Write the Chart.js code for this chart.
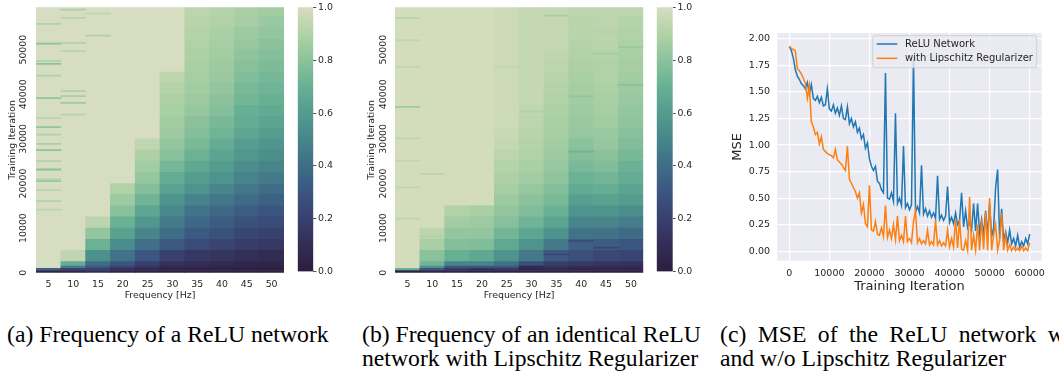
<!DOCTYPE html>
<html>
<head>
<meta charset="utf-8">
<script src="https://cdn.jsdelivr.net/npm/chart.js@4.4.1/dist/chart.umd.min.js"></script>
<style>
  html, body { margin: 0; padding: 0; background: #fff; width: 1059px; height: 373px; overflow: hidden; position: relative; }
  canvas { position: absolute; }
  .cap { position: absolute; font-family: "Liberation Serif", "Times New Roman", serif; font-size: 23.7px; line-height: 1; color: #000; white-space: nowrap; }
</style>
</head>
<body>
<canvas id="heatA" width="290" height="305" style="left:0px;top:0px"></canvas>
<canvas id="barA" width="60" height="305" style="left:290px;top:0px"></canvas>
<canvas id="heatB" width="300" height="305" style="left:350px;top:0px"></canvas>
<canvas id="barB" width="60" height="305" style="left:650px;top:0px"></canvas>
<canvas id="mse" width="339" height="280" style="left:720px;top:20px"></canvas>

<div class="cap" style="left:7px;top:323px">(a) Frequency of a ReLU network</div>
<div class="cap" style="left:362px;top:323px">(b) Frequency of an identical ReLU</div>
<div class="cap" style="left:362px;top:347px">network with Lipschitz Regularizer</div>
<div class="cap" style="left:720px;top:323px;word-spacing:5.5px">(c) MSE of the ReLU network with</div>
<div class="cap" style="left:720px;top:347px">and w/o Lipschitz Regularizer</div>

<script>
// ---- data ----
var freqLabels = ['5', '10', '15', '20', '25', '30', '35', '40', '45', '50'];
// heatmap row edges (training iterations)
var rowEdges = [0, 500, 1000, 1500, 2500, 5000, 7500, 10000, 12500, 15000, 17500, 20000, 22500, 25000,
  27500, 30000, 32500, 35000, 37500, 40000, 42500, 45000, 47500, 50000, 52500, 55000, 57500, 59500];
var iterTicks = [0, 10000, 20000, 30000, 40000, 50000];
var cbarTicks = [0, 0.2, 0.4, 0.6, 0.8, 1.0];

// (a) plain ReLU network, one list per frequency column, one value per row
var heatA = [
  [0.06, 0.35, 1, 1, 1, 1, 1, 1, 1, 1, 1, 1, 1, 1, 1, 1, 1, 1, 1, 1, 1, 1, 1, 1, 1, 1, 1],
  [0.05, 0.2, 0.45, 0.68, 0.94, 1, 1, 1, 1, 1, 1, 1, 1, 1, 1, 1, 1, 1, 1, 1, 1, 1, 1, 1, 1, 1, 1],
  [0.1, 0.2, 0.3, 0.4, 0.55, 0.71, 0.82, 0.93, 1, 1, 1, 1, 1, 1, 1, 1, 1, 1, 1, 1, 1, 1, 1, 1, 1, 1, 1],
  [0.04, 0.12, 0.2, 0.3, 0.42, 0.53, 0.63, 0.71, 0.79, 0.85, 0.9, 1, 1, 1, 1, 1, 1, 1, 1, 1, 1, 1, 1, 1, 1, 1, 1],
  [0.03, 0.08, 0.13, 0.2, 0.31, 0.41, 0.5, 0.58, 0.65, 0.72, 0.78, 0.83, 0.86, 0.89, 0.94, 1, 1, 1, 1, 1, 1, 1, 1, 1, 1, 1, 1],
  [0.02, 0.04, 0.07, 0.12, 0.2, 0.32, 0.4, 0.46, 0.51, 0.57, 0.63, 0.68, 0.74, 0.79, 0.82, 0.85, 0.86, 0.88, 0.89, 0.91, 0.93, 1, 1, 1, 1, 1, 1],
  [0.02, 0.04, 0.07, 0.1, 0.16, 0.25, 0.32, 0.38, 0.43, 0.49, 0.56, 0.61, 0.66, 0.71, 0.75, 0.78, 0.8, 0.83, 0.85, 0.86, 0.87, 0.88, 0.89, 0.9, 0.91, 0.92, 0.93],
  [0.01, 0.03, 0.05, 0.08, 0.14, 0.22, 0.28, 0.33, 0.38, 0.44, 0.5, 0.56, 0.6, 0.64, 0.68, 0.72, 0.75, 0.78, 0.8, 0.82, 0.84, 0.85, 0.86, 0.87, 0.88, 0.9, 0.91],
  [0.01, 0.02, 0.04, 0.06, 0.11, 0.18, 0.23, 0.28, 0.33, 0.39, 0.44, 0.49, 0.54, 0.58, 0.61, 0.65, 0.68, 0.7, 0.73, 0.75, 0.77, 0.79, 0.81, 0.83, 0.85, 0.87, 0.88],
  [0.01, 0.02, 0.03, 0.05, 0.09, 0.16, 0.2, 0.25, 0.3, 0.35, 0.4, 0.45, 0.5, 0.54, 0.57, 0.61, 0.64, 0.67, 0.7, 0.72, 0.74, 0.76, 0.78, 0.8, 0.82, 0.84, 0.86]
];
// thin noisy lines: [column, iteration, value]
var stripesA = [
  [0, 55650, 0.9], [0, 51240, 0.8], [0, 47290, 0.9], [0, 46690, 0.8], [0, 44070, 0.9], [0, 39000, 0.82],
  [0, 34590, 0.92], [0, 32490, 0.82], [0, 30850, 0.9], [0, 28760, 0.88], [0, 27340, 0.8], [0, 24880, 0.9],
  [0, 23010, 0.8], [0, 20770, 0.9], [0, 20390, 0.82], [0, 18380, 0.92], [0, 15910, 0.9], [0, 14040, 0.93],
  [1, 58860, 0.88], [1, 57000, 0.92], [1, 51400, 0.9], [1, 49530, 0.92], [1, 40560, 0.9], [1, 39440, 0.88],
  [1, 37950, 0.85], [1, 35330, 0.92], [2, 53040, 0.9], [2, 58000, 0.94]
];

// (b) ReLU network with Lipschitz regularizer
var heatB = [
  [0.03, 0.7, 0.99, 0.99, 0.99, 0.99, 0.99, 0.99, 0.99, 0.99, 0.99, 0.99, 0.99, 0.99, 0.99, 0.99, 0.99, 0.99, 0.99, 0.99, 0.99, 0.99, 0.99, 0.99, 0.99, 0.99, 0.99],
  [0.05, 0.3, 0.55, 0.72, 0.8, 0.88, 0.93, 0.99, 0.99, 0.99, 0.99, 0.99, 0.99, 0.99, 0.99, 0.99, 0.99, 0.99, 0.99, 0.99, 0.99, 0.99, 0.99, 0.99, 0.99, 0.99, 0.99],
  [0.05, 0.15, 0.3, 0.5, 0.7, 0.78, 0.82, 0.86, 0.9, 0.99, 0.99, 0.99, 0.99, 0.99, 0.99, 0.99, 0.99, 0.99, 0.99, 0.99, 0.99, 0.99, 0.99, 0.99, 0.99, 0.99, 0.99],
  [0.04, 0.12, 0.3, 0.5, 0.66, 0.77, 0.82, 0.85, 0.88, 0.99, 0.99, 0.99, 0.99, 0.99, 0.99, 0.99, 0.99, 0.99, 0.99, 0.99, 0.99, 0.99, 0.99, 0.99, 0.99, 0.99, 0.99],
  [0.04, 0.15, 0.3, 0.42, 0.56, 0.66, 0.73, 0.79, 0.82, 0.85, 0.87, 0.89, 0.91, 0.93, 0.95, 0.96, 0.97, 0.97, 0.97, 0.97, 0.97, 0.97, 0.97, 0.97, 0.97, 0.97, 0.97],
  [0.04, 0.06, 0.08, 0.27, 0.45, 0.56, 0.65, 0.72, 0.77, 0.8, 0.83, 0.86, 0.88, 0.9, 0.91, 0.92, 0.93, 0.94, 0.95, 0.95, 0.95, 0.95, 0.95, 0.95, 0.95, 0.95, 0.95],
  [0.04, 0.07, 0.12, 0.18, 0.32, 0.45, 0.56, 0.64, 0.71, 0.75, 0.78, 0.81, 0.83, 0.85, 0.86, 0.87, 0.88, 0.89, 0.9, 0.91, 0.92, 0.93, 0.94, 0.95, 0.95, 0.95, 0.95],
  [0.03, 0.06, 0.1, 0.17, 0.27, 0.34, 0.42, 0.5, 0.56, 0.62, 0.67, 0.71, 0.75, 0.78, 0.8, 0.83, 0.84, 0.85, 0.86, 0.87, 0.88, 0.89, 0.9, 0.91, 0.92, 0.92, 0.93],
  [0.02, 0.05, 0.08, 0.14, 0.24, 0.33, 0.42, 0.5, 0.57, 0.63, 0.69, 0.73, 0.77, 0.8, 0.83, 0.84, 0.86, 0.87, 0.88, 0.89, 0.9, 0.9, 0.91, 0.92, 0.92, 0.93, 0.93],
  [0.02, 0.05, 0.08, 0.13, 0.22, 0.31, 0.39, 0.47, 0.54, 0.6, 0.64, 0.68, 0.71, 0.75, 0.77, 0.79, 0.81, 0.82, 0.84, 0.85, 0.86, 0.87, 0.88, 0.89, 0.9, 0.91, 0.93]
];
var stripesB = [
  [0, 37050, 0.85], [0, 57000, 0.93], [0, 52000, 0.94], [0, 46000, 0.94], [0, 30000, 0.94], [0, 25000, 0.94],
  [0, 19000, 0.94], [0, 12000, 0.94], [1, 22000, 0.94], [1, 8000, 0.9], [1, 5300, 0.88], [6, 13900, 0.7],
  [7, 39400, 0.82], [9, 26000, 0.74], [9, 50500, 0.84], [6, 57500, 0.88], [8, 49000, 0.86], [5, 36000, 0.9],
  [4, 46000, 0.94], [7, 7000, 0.25], [8, 5500, 0.22], [6, 4000, 0.22], [9, 42000, 0.8], [7, 27000, 0.72]
];

// (c) MSE, sampled every 500 iterations from 0 to 60000
var mseStep = 500;
var reluMSE = [
  1.93, 1.89, 1.82, 1.71, 1.65, 1.62, 1.58, 1.56, 1.53, 1.59,
  1.48, 1.57, 1.44, 1.42, 1.46, 1.40, 1.45, 1.37, 1.38, 1.53,
  1.34, 1.32, 1.38, 1.30, 1.35, 1.28, 1.37, 1.25, 1.24, 1.36,
  1.20, 1.25, 1.17, 1.22, 1.12, 1.16, 1.06, 1.10, 0.97, 1.02,
  0.87, 0.80, 0.76, 0.80, 0.66, 0.64, 0.58, 0.55, 1.68, 0.50,
  0.49, 0.55, 0.47, 1.30, 0.45, 0.50, 0.43, 0.99, 0.41, 0.45,
  0.39, 0.44, 1.83, 0.37, 0.42, 0.36, 0.81, 0.35, 0.40, 0.33,
  0.38, 0.32, 0.36, 0.31, 0.71, 0.30, 0.34, 0.29, 0.33, 0.61,
  0.27, 0.32, 0.26, 0.36, 0.25, 0.29, 0.55, 0.23, 0.38, 0.22,
  0.27, 0.20, 0.45, 0.19, 0.45, 0.17, 0.30, 0.16, 0.38, 0.15,
  0.45, 0.14, 0.22, 0.60, 0.77, 0.12, 0.40, 0.10, 0.18, 0.08,
  0.20, 0.07, 0.12, 0.05, 0.15, 0.04, 0.09, 0.05, 0.12, 0.07, 0.16
];
var lipMSE = [
  1.93, 1.91, 1.90, 1.89, 1.72, 1.70, 1.67, 1.63, 1.58, 1.44,
  1.56, 1.22, 1.17, 1.10, 1.12, 1.01, 1.08, 0.96, 0.94, 0.92,
  0.91, 0.90, 0.88, 0.96, 0.86, 0.84, 0.82, 0.79, 0.76, 0.99,
  0.68, 0.64, 0.60, 0.56, 0.50, 0.55, 0.36, 0.44, 0.26, 0.23,
  0.62, 0.20, 0.19, 0.28, 0.16, 0.15, 0.22, 0.14, 0.43, 0.13,
  0.20, 0.12, 0.25, 0.11, 0.33, 0.10, 0.15, 0.09, 0.33, 0.09,
  0.12, 0.08, 0.28, 0.38, 0.08, 0.12, 0.07, 0.10, 0.07, 0.20,
  0.06, 0.09, 0.06, 0.29, 0.06, 0.10, 0.05, 0.08, 0.05, 0.20,
  0.04, 0.12, 0.04, 0.30, 0.03, 0.30, 0.02, 0.01, 0.10, 0.01,
  0.51, 0.01, 0.15, 0.01, 0.25, 0.01, 0.30, 0.02, 0.37, 0.01,
  0.50, 0.01, 0.15, 0.25, 0.01, 0.10, 0.36, 0.01, 0.15, 0.01,
  0.06, 0.005, 0.04, 0.005, 0.03, 0.005, 0.05, 0.005, 0.03, 0.005, 0.08
];
var mseXTicks = [0, 10000, 20000, 30000, 40000, 50000, 60000];
var mseYTicks = [0, 0.25, 0.5, 0.75, 1.0, 1.25, 1.5, 1.75, 2.0];

// ---- style ----
var TXT = '#262626';
var FONT = '"DejaVu Sans", sans-serif';
Chart.defaults.font.family = FONT;
Chart.defaults.color = TXT;

// colour map, dark (0) -> light (1)
var cmapStops = ['#2c1e3e', '#332d55', '#38406e', '#3b5580', '#3f6d87', '#47858b',
  '#539c8e', '#68b094', '#8bc29c', '#b1d2a6', '#d7ddc0'];

function hexRgb(h) {
  return [parseInt(h.substr(1, 2), 16), parseInt(h.substr(3, 2), 16), parseInt(h.substr(5, 2), 16)];
}
function cmap(v) {
  v = Math.max(0, Math.min(1, v));
  var p = v * 10, i = Math.min(9, Math.floor(p)), t = p - i;
  var a = hexRgb(cmapStops[i]), b = hexRgb(cmapStops[i + 1]);
  var c = a.map(function (x, k) { return Math.round(x + (b[k] - x) * t); });
  return 'rgb(' + c.join(',') + ')';
}

// rotated tick labels on the heatmap y axis
function yRotTicks(x) {
  return {
    id: 'yRotTicks',
    afterDraw: function (chart) {
      var ctx = chart.ctx, ys = chart.scales.y;
      ctx.save();
      ctx.font = '9.4px ' + FONT;
      ctx.fillStyle = TXT;
      ctx.textAlign = 'center';
      ctx.textBaseline = 'middle';
      iterTicks.forEach(function (v) {
        ctx.save();
        ctx.translate(x, ys.getPixelForValue(v));
        ctx.rotate(-Math.PI / 2);
        ctx.fillText(String(v), 0, 0);
        ctx.restore();
      });
      ctx.restore();
    }
  };
}

function drawHeatmap(id, values, stripes, yAxisW, padRight, titlePad, tickX) {
  var datasets = [];
  stripes.forEach(function (s) {
    datasets.push({
      data: freqLabels.map(function (f, j) { return j === s[0] ? [s[1], s[1] + 250] : null; }),
      backgroundColor: cmap(s[2]),
      order: 0
    });
  });
  for (var r = 0; r < rowEdges.length - 1; r++) {
    datasets.push({
      data: freqLabels.map(function () { return [rowEdges[r], rowEdges[r + 1]]; }),
      backgroundColor: values.map(function (col) { return cmap(col[r]); }),
      order: 1
    });
  }
  new Chart(document.getElementById(id), {
    type: 'bar',
    data: { labels: freqLabels, datasets: datasets },
    options: {
      responsive: false,
      animation: false,
      layout: { padding: { top: 7.3, right: padRight, left: 0, bottom: 0 } },
      datasets: { bar: { grouped: false, barPercentage: 1, categoryPercentage: 1, borderWidth: 0 } },
      plugins: { legend: { display: false }, tooltip: { enabled: false } },
      scales: {
        x: {
          grid: { display: false, drawTicks: false },
          border: { display: false },
          ticks: { font: { size: 9.4 }, padding: 6.7, maxRotation: 0 },
          title: { display: true, text: 'Frequency [Hz]', font: { size: 9.4 }, padding: { top: 0, bottom: 3.9 } },
          afterFit: function (s) { s.height = 32.3; }
        },
        y: {
          min: 0,
          max: 59500,
          grid: { display: false, drawTicks: false },
          border: { display: false },
          ticks: { display: false },
          title: { display: true, text: 'Training Iteration', font: { size: 9.4 }, padding: { top: titlePad, bottom: 0 } },
          afterFit: function (s) { s.width = yAxisW; }
        }
      }
    },
    plugins: [yRotTicks(tickX)]
  });
}

function drawColorbar(id, padLeft, axisW) {
  new Chart(document.getElementById(id), {
    type: 'bar',
    data: {
      labels: [''],
      datasets: [{
        data: [[0, 1]],
        borderWidth: 0,
        backgroundColor: function (c) {
          var a = c.chart.chartArea;
          if (!a) return cmapStops[5];
          var g = c.chart.ctx.createLinearGradient(0, a.bottom, 0, a.top);
          cmapStops.forEach(function (col, i) { g.addColorStop(i / 10, col); });
          return g;
        }
      }]
    },
    options: {
      responsive: false,
      animation: false,
      layout: { padding: { top: 7.3, left: padLeft, right: 0, bottom: 33.3 } },
      datasets: { bar: { barPercentage: 1, categoryPercentage: 1 } },
      plugins: { legend: { display: false }, tooltip: { enabled: false } },
      scales: {
        x: { display: false },
        y: {
          position: 'right',
          min: 0,
          max: 1,
          afterBuildTicks: function (s) { s.ticks = cbarTicks.map(function (v) { return { value: v }; }); },
          grid: { drawOnChartArea: false, drawTicks: true, tickLength: 3, tickColor: TXT, tickWidth: 0.8 },
          border: { display: false },
          ticks: { font: { size: 9.4 }, padding: 1.7, callback: function (v) { return Number(v).toFixed(1); } },
          afterFit: function (s) { s.width = axisW; }
        }
      }
    }
  });
}

drawHeatmap('heatA', heatA, stripesA, 36, 6, 6.6, 23.7);
drawColorbar('barA', 7.7, 36.7);
drawHeatmap('heatB', heatB, stripesB, 45, 6.7, 15.6, 33.7);
drawColorbar('barB', 6.7, 37.3);

// ---- MSE line chart ----
var plotBg = {
  id: 'plotBg',
  beforeDraw: function (chart) {
    var a = chart.chartArea, ctx = chart.ctx;
    ctx.save();
    ctx.fillStyle = '#eaeaf2';
    ctx.fillRect(a.left, a.top, a.right - a.left, a.bottom - a.top);
    ctx.restore();
  }
};
var boxLegend = {
  id: 'boxLegend',
  afterDatasetsDraw: function (chart) {
    var ctx = chart.ctx;
    var items = [['ReLU Network', '#1f77b4'], ['with Lipschitz Regularizer', '#ff7f0e']];
    ctx.save();
    ctx.beginPath();
    ctx.roundRect(152.7, 15.7, 164, 32, 2.5);
    ctx.fillStyle = 'rgba(234,234,242,0.8)';
    ctx.fill();
    ctx.strokeStyle = 'rgba(204,204,204,0.8)';
    ctx.lineWidth = 1;
    ctx.stroke();
    ctx.font = '10px ' + FONT;
    ctx.textBaseline = 'middle';
    ctx.textAlign = 'left';
    items.forEach(function (it, i) {
      var y = 24 + i * 14.3;
      ctx.strokeStyle = it[1];
      ctx.lineWidth = 1.5;
      ctx.beginPath();
      ctx.moveTo(156.7, y);
      ctx.lineTo(177.3, y);
      ctx.stroke();
      ctx.fillStyle = TXT;
      ctx.fillText(it[0], 185, y);
    });
    ctx.restore();
  }
};

new Chart(document.getElementById('mse'), {
  type: 'line',
  data: {
    datasets: [
      {
        label: 'ReLU Network',
        data: reluMSE.map(function (v, i) { return { x: i * mseStep, y: v }; }),
        borderColor: '#1f77b4',
        borderWidth: 1.5,
        pointRadius: 0,
        order: 1
      },
      {
        label: 'with Lipschitz Regularizer',
        data: lipMSE.map(function (v, i) { return { x: i * mseStep, y: v }; }),
        borderColor: '#ff7f0e',
        borderWidth: 1.5,
        pointRadius: 0,
        order: 0
      }
    ]
  },
  options: {
    responsive: false,
    animation: false,
    layout: { padding: { top: 7.3, right: 17.3, left: 0, bottom: 0 } },
    plugins: { legend: { display: false }, tooltip: { enabled: false } },
    scales: {
      x: {
        type: 'linear',
        min: -3000,
        max: 63000,
        afterBuildTicks: function (s) { s.ticks = mseXTicks.map(function (v) { return { value: v }; }); },
        grid: { color: '#ffffff', lineWidth: 1.2, drawTicks: false },
        border: { display: false },
        ticks: { font: { size: 9.5 }, padding: 7.5, maxRotation: 0, callback: function (v) { return String(v); } },
        title: { display: true, text: 'Training Iteration', font: { size: 13 }, padding: { top: 0, bottom: 5.5 } },
        afterFit: function (s) { s.height = 39.3; }
      },
      y: {
        min: -0.0895,
        max: 2.056,
        afterBuildTicks: function (s) { s.ticks = mseYTicks.map(function (v) { return { value: v }; }); },
        grid: { color: '#ffffff', lineWidth: 1.2, drawTicks: false },
        border: { display: false },
        ticks: { font: { size: 9.5 }, padding: 7.3, callback: function (v) { return Number(v).toFixed(2); } },
        title: { display: true, text: 'MSE', font: { size: 13 }, padding: { top: 10, bottom: 0 } },
        afterFit: function (s) { s.width = 57.3; }
      }
    }
  },
  plugins: [plotBg, boxLegend]
});
</script>
</body>
</html>
